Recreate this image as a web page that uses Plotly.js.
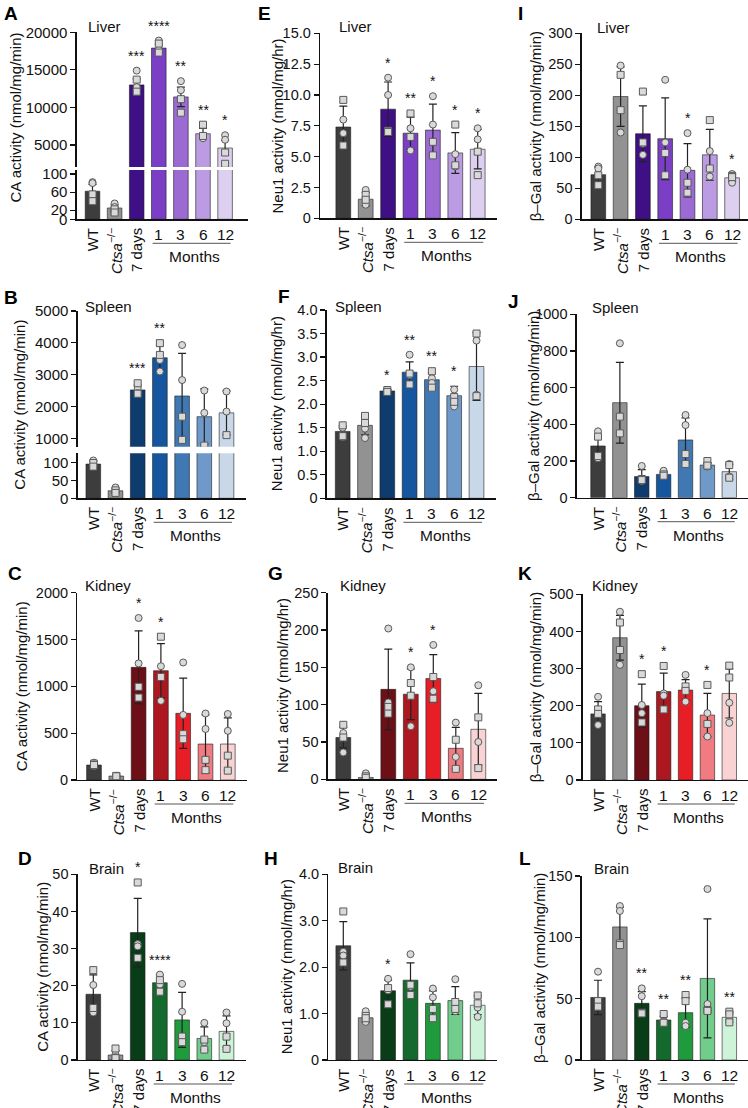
<!DOCTYPE html>
<html><head><meta charset="utf-8">
<script src="https://cdn.plot.ly/plotly-3.0.1.min.js"></script>
<style>html,body{margin:0;padding:0;background:#fff}</style>
</head><body><div id="chart" style="width:748px;height:1108px"></div>
<script>
const categories = ["WT","Ctsa−/−","7 days","1","3","6","12"];
const tickLabels = ["WT","<i>Ctsa</i><sup>−/−</sup>","7 days","1","3","6","12"];
const groupLabel = "Months";

// Panel A – Liver CA
const A_mean = [62, 25, 13000, 17900, 11400, 6500, 4600];
const A_sd   = [15, 7, 800, 500, 1300, 700, 1000];
const A_circ = [[82, 80], [35, 27], [14900, 12700], [18900, 17700], [13500, 12300], [5900], [6300, 5700]];
const A_sq   = [[55, 40], [22, 15], [13700, 12100], [18500, 17300], [11100, 9300], [7700, 6200], [4000, 2500]];
const A_star = ["", "", "***", "****", "**", "**", "*"];
// Panel B – Spleen CA
const B_mean = [95, 21, 2520, 3530, 2330, 1680, 1800];
const B_sd   = [8, 6, 150, 380, 1340, 870, 690];
const B_circ = [[105, 92], [30, 18], [2580, 2420], [3460, 3100], [3930, 2830], [2500, 1800], [2470, 1840]];
const B_sq   = [[98, 88], [22, 15], [2730, 2400], [3990, 3620], [1680, 950], [770], [1100]];
const B_star = ["", "", "***", "**", "", "", ""];
// Panel C – Kidney CA
const C_mean = [160, 42, 1203, 1167, 712, 384, 384];
const C_sd   = [22, 5, 390, 290, 375, 310, 280];
const C_circ = [[185, 150], [45, 38], [1730, 1245], [1215, 845], [1255, 695], [710, 545], [705, 525]];
const C_sq   = [[175, 160], [44, 40], [995, 880], [1530, 1100], [490, 435], [215, 105], [260, 100]];
const C_star = ["", "", "*", "*", "", "", ""];
// Panel D – Brain CA
const D_mean = [17.7, 1.35, 34.3, 20.8, 10.8, 5.8, 7.7];
const D_sd   = [5.2, 1.2, 9.2, 2.1, 7.4, 3.1, 4.2];
const D_circ = [[20.2, 12.8], [1.5, 0.8], [31.2, 30.6], [23.0, 20.3], [20.5, 13.0], [10.0, 4.8], [12.8, 9.9]];
const D_sq   = [[24.2, 14.0], [3.1, 0.5], [47.8, 27.5], [21.5, 18.4], [6.3, 4.8], [5.5, 2.8], [6.3, 3.0]];
const D_star = ["", "", "*", "****", "", "", ""];
// Panel E – Liver Neu1
const E_mean = [7.4, 1.55, 8.85, 6.9, 7.15, 5.3, 5.6];
const E_sd   = [1.7, 0.55, 2.2, 1.3, 2.1, 1.65, 1.6];
const E_circ = [[8.0, 6.9], [2.3, 1.1], [11.4, 10.0], [7.3, 5.5], [9.9, 7.6], [5.2, 4.2], [7.3, 6.4]];
const E_sq   = [[9.6, 5.9], [1.9, 1.5], [7.1, 7.0], [8.5, 6.6], [6.2, 5.1], [7.6, 4.3], [5.4, 3.5]];
const E_star = ["", "", "*", "**", "*", "*", "*"];
// Panel F – Spleen Neu1
const F_mean = [1.42, 1.55, 2.28, 2.68, 2.52, 2.18, 2.8];
const F_sd   = [0.12, 0.2, 0.03, 0.22, 0.14, 0.2, 0.72];
const F_circ = [[1.5, 1.3], [1.48, 1.28], [2.3, 2.28], [3.05, 2.62], [2.55, 2.45], [2.31, 1.95], [3.35, 2.2]];
const F_sq   = [[1.55, 1.32], [1.75, 1.6], [2.3, 2.26], [2.65, 2.42], [2.7, 2.35], [2.15, 2.05], [3.5, 2.17]];
const F_star = ["", "", "*", "**", "**", "*", ""];
// Panel G – Kidney Neu1
const G_mean = [56, 2.5, 120.5, 114, 135, 41.5, 67];
const G_sd   = [14, 3, 54, 34, 32, 28, 48];
const G_circ = [[62, 36], [8, 1.5], [202, 103], [150, 71], [180, 118], [76, 30], [126, 50]];
const G_sq   = [[73, 56], [4, 2], [97, 88], [129, 112], [137, 108], [53, 14], [83, 15]];
const G_star = ["", "", "", "*", "*", "", ""];
// Panel H – Brain Neu1
const H_mean = [2.46, 0.91, 1.49, 1.72, 1.22, 1.28, 1.18];
const H_sd   = [0.52, 0.1, 0.23, 0.37, 0.27, 0.3, 0.2];
const H_circ = [[2.33, 2.25], [1.05, 0.82], [1.75, 1.5], [2.28, 1.58], [1.54, 1.35], [1.74, 1.05], [1.13, 0.93]];
const H_sq   = [[3.2, 2.1], [0.95, 0.9], [1.55, 1.2], [1.62, 1.4], [1.1, 0.9], [1.25, 1.1], [1.39, 1.22]];
const H_star = ["", "", "*", "", "", "", ""];
// Panel I – Liver β-Gal
const I_mean = [72, 198, 138, 130, 79, 104, 67];
const I_sd   = [12, 48, 45, 66, 43, 41, 6];
const I_circ = [[85, 82], [248, 140], [122, 104], [225, 124], [139, 80], [110, 69], [73, 59]];
const I_sq   = [[71, 55], [233, 176], [206, 124], [107, 71], [59, 43], [160, 82], [70, 68]];
const I_star = ["", "", "", "", "*", "", "*"];
// Panel J – Spleen β-Gal
const J_mean = [282, 518, 115, 127, 315, 178, 142];
const J_sd   = [58, 220, 38, 12, 120, 13, 40];
const J_circ = [[362, 215], [842, 442], [173, 91], [147, 124], [451, 396], [187, 169], [184, 115]];
const J_sq   = [[333, 227], [442, 351], [102, 96], [127, 120], [238, 184], [200, 175], [178, 109]];
const J_star = ["", "", "", "", "", "", ""];
// Panel K – Kidney β-Gal
const K_mean = [178, 383, 200, 238, 242, 175, 233];
const K_sd   = [33, 60, 58, 50, 28, 58, 66];
const K_circ = [[224, 148], [453, 310], [202, 180], [233, 227], [283, 211], [180, 117], [208, 154]];
const K_sq   = [[190, 178], [424, 350], [285, 155], [307, 190], [252, 240], [256, 151], [308, 276]];
const K_star = ["", "", "*", "*", "", "*", ""];
// Panel L – Brain β-Gal
const L_mean = [51, 108.5, 46.2, 32.6, 38.6, 66.5, 34.8];
const L_sd   = [14, 16, 9.5, 3, 12, 48.5, 4];
const L_circ = [[72, 45], [125.5, 121.5], [58.4, 52], [31.8, 31], [30.4, 27.7], [139.4, 45.6], [33]];
const L_sq   = [[48, 43.5], [95, 93.7], [38.6, 38], [37.5, 30.4], [53, 48], [40.8, 40], [39.4, 37.2, 30.7]];
const L_star = ["", "", "**", "**", "**", "", "**"];

const greys  = ["#3d3d3d", "#929292"];
const purple = ["#3f0f85", "#7b3fc6", "#9b6bd3", "#bb9ce2", "#dccff0"];
const blue   = ["#0e3c6f", "#15569f", "#3f78b3", "#6e99c9", "#c9d8e8"];
const red    = ["#6d0f16", "#ad1820", "#e81e26", "#f07b80", "#f9d2d3"];
const green  = ["#093d18", "#14692c", "#1f9a3d", "#70cd8b", "#cdf3d8"];

const W = 748, H = 1108;
const px = x => x / W, py = y => 1 - y / H;
const FONT = "Liberation Sans, Arial, Helvetica, sans-serif";
const CA = "CA activity (nmol/mg/min)", NEU = "Neu1 activity (nmol/mg/hr)", GAL = "β–Gal activity (nmol/mg/min)";
function rng(a, b, s) { const o = []; for (let v = a; v <= b + 1e-9; v += s) o.push(+v.toFixed(3)); return o; }

const panels = [
 {L:'A', organ:'Liver', yt:CA, mean:A_mean, sd:A_sd, circ:A_circ, sq:A_sq, star:A_star, pal:purple, tf:15,
  g:{xL:76.7, xR:248, yT:32.3, yB:219.3, c0:92.5, s:22.1, lx:2, ly:5, ox:86, oy:26, tx:15.5, ty:118},
  brk:{upBot:167, loTop:170, up:[2072, 20000], upT:[5000, 10000, 15000, 20000], upTT:["5000","10000","15000","20000"], lo:[0, 108.8], loT:[0, 20, 60, 100]}},
 {L:'E', organ:'Liver', yt:NEU, mean:E_mean, sd:E_sd, circ:E_circ, sq:E_sq, star:E_star, pal:purple,
  g:{xL:320, yT:33.3, yB:218.3, c0:343.3, s:22.4, lx:256, ly:5, ox:337, oy:26, tx:277.7},
  yr:[0, 15], ytv:rng(0, 15, 2.5), ytt:["0","2.5","5.0","7.5","10.0","12.5","15.0"]},
 {L:'I', organ:'Liver', yt:GAL, mean:I_mean, sd:I_sd, circ:I_circ, sq:I_sq, star:I_star, pal:purple,
  g:{xL:581.7, xR:748, yT:33.3, yB:219.3, c0:598.3, s:22.3, lx:516, ly:5, ox:595, oy:27, tx:535},
  yr:[0, 300], ytv:rng(0, 300, 50)},
 {L:'B', organ:'Spleen', yt:CA, mean:B_mean, sd:B_sd, circ:B_circ, sq:B_sq, star:B_star, pal:blue, tf:15,
  g:{xL:77.7, yT:311, yB:498.3, c0:93.3, s:22.2, lx:2, ly:289, ox:83, oy:307, tx:20},
  brk:{upBot:446.7, loTop:453.3, up:[736, 5000], upT:[1000, 2000, 3000, 4000, 5000], upTT:["1000","2000","3000","4000","5000"], lo:[0, 125], loT:[0, 50, 100]}},
 {L:'F', organ:'Spleen', yt:NEU, mean:F_mean, sd:F_sd, circ:F_circ, sq:F_sq, star:F_star, pal:blue,
  g:{xL:326.7, yT:310, yB:498.3, c0:342.7, s:22.3, lx:276, ly:288, ox:333, oy:307, tx:276},
  yr:[0, 4], ytv:rng(0, 4, 0.5), ytt:["0","0.5","1.0","1.5","2.0","2.5","3.0","3.5","4.0"]},
 {L:'J', organ:'Spleen', yt:GAL, mean:J_mean, sd:J_sd, circ:J_circ, sq:J_sq, star:J_star, pal:blue,
  g:{xL:576.7, yT:314.3, yB:497.7, c0:598.3, s:22.2, lx:506, ly:293, ox:590, oy:308, tx:533},
  yr:[0, 1000], ytv:rng(0, 1000, 200)},
 {L:'C', organ:'Kidney', yt:CA, mean:C_mean, sd:C_sd, circ:C_circ, sq:C_sq, star:C_star, pal:red,
  g:{xL:77.3, yT:592.7, yB:780, c0:94, s:22.3, lx:6, ly:565, ox:83, oy:585, tx:21},
  yr:[0, 2000], ytv:rng(0, 2000, 500)},
 {L:'G', organ:'Kidney', yt:NEU, mean:G_mean, sd:G_sd, circ:G_circ, sq:G_sq, star:G_star, pal:red,
  g:{xL:327.7, yT:592.7, yB:779.3, c0:343.3, s:22.5, lx:266, ly:565, ox:338, oy:585, tx:282},
  yr:[0, 250], ytv:rng(0, 250, 50)},
 {L:'K', organ:'Kidney', yt:GAL, mean:K_mean, sd:K_sd, circ:K_circ, sq:K_sq, star:K_star, pal:red,
  g:{xL:582.7, yT:594.3, yB:780, c0:598.3, s:22.2, lx:516, ly:565, ox:590, oy:585, tx:535},
  yr:[0, 500], ytv:rng(0, 500, 100)},
 {L:'D', organ:'Brain', yt:CA, mean:D_mean, sd:D_sd, circ:D_circ, sq:D_sq, star:D_star, pal:green,
  g:{xL:77.7, yT:874.3, yB:1060, c0:93.3, s:22.2, lx:16, ly:850, ox:87, oy:868, tx:41.7},
  yr:[0, 50], ytv:rng(0, 50, 10)},
 {L:'H', organ:'Brain', yt:NEU, mean:H_mean, sd:H_sd, circ:H_circ, sq:H_sq, star:H_star, pal:green,
  g:{xL:328.3, yT:874.3, yB:1060, c0:343.3, s:22.4, lx:262, ly:850, ox:336, oy:867, tx:286},
  yr:[0, 4], ytv:[0, 1, 2, 3, 4], ytt:["0","1.0","2.0","3.0","4.0"]},
 {L:'L', organ:'Brain', yt:GAL, mean:L_mean, sd:L_sd, circ:L_circ, sq:L_sq, star:L_star, pal:green,
  g:{xL:581.7, yT:876, yB:1060, c0:598.3, s:22.3, lx:517, ly:850, ox:592, oy:868, tx:539},
  yr:[0, 150], ytv:rng(0, 150, 50)}
];

const data = [];
const layout = {
  width: W, height: H, margin: {l:0, r:0, t:0, b:0}, autosize: false,
  paper_bgcolor: '#fff', plot_bgcolor: 'rgba(0,0,0,0)', showlegend: false,
  font: {family: FONT, color: '#111', size: 15}, annotations: [], shapes: [], bargap: 0
};
function yax(r, tv, tt, dom, anchor, fs) {
  const a = {range: r, domain: dom, anchor: anchor, tickmode: 'array', tickvals: tv,
    showline: true, linecolor: '#111', linewidth: 1.3, ticks: 'outside', ticklen: 5, tickwidth: 1.2,
    tickcolor: '#111', tickfont: {size: fs, family: FONT, color: '#111'}, showgrid: false, zeroline: false, fixedrange: true};
  a.ticktext = tt || tv.map(v => String(v));
  return a;
}
let extra = 13;
panels.forEach((p, idx) => {
  const n = idx + 1, g = p.g;
  const xa = 'x' + n, ya = 'y' + n;
  const fs = p.tf || 14.5;
  const xr = g.xR || (g.c0 + 6 * g.s + 19);
  layout['xaxis' + n] = {type: 'category', domain: [px(g.xL), px(xr)], range: [(g.xL - g.c0) / g.s, (xr - g.c0) / g.s],
    anchor: ya, showline: true, linecolor: '#111', linewidth: 1.3, showticklabels: false, ticks: '',
    showgrid: false, zeroline: false, fixedrange: true};
  const axes = [];
  if (p.brk) {
    const b = p.brk;
    layout['yaxis' + n] = yax(b.lo, b.loT, null, [py(g.yB), py(b.loTop)], xa, fs);
    const m = extra++;
    layout['yaxis' + m] = yax(b.up, b.upT, b.upTT, [py(b.upBot), py(g.yT)], xa, fs);
    axes.push({id: ya, r: b.lo}, {id: 'y' + m, r: b.up});
  } else {
    layout['yaxis' + n] = yax(p.yr, p.ytv, p.ytt, [py(g.yB), py(g.yT)], xa, fs);
    axes.push({id: ya, r: p.yr});
  }
  const cx = [], cy = [], sx = [], sy = [];
  p.circ.forEach((arr, i) => arr.forEach(v => { cx.push(categories[i]); cy.push(v); }));
  p.sq.forEach((arr, i) => arr.forEach(v => { sx.push(categories[i]); sy.push(v); }));
  axes.forEach(a => {
    data.push({type: 'bar', x: categories, y: p.mean, xaxis: xa, yaxis: a.id, width: 0.66,
      marker: {color: greys.concat(p.pal), line: {color: 'rgba(30,30,30,0.75)', width: 0.8}},
      error_y: {type: 'data', array: p.sd, visible: true, color: '#222', thickness: 1.2, width: 4}, hoverinfo: 'skip'});
    data.push({type: 'scatter', mode: 'markers', x: cx, y: cy, xaxis: xa, yaxis: a.id, hoverinfo: 'skip',
      marker: {symbol: 'circle', size: 7, color: '#d9d9d9', line: {color: '#5a5a5a', width: 1}}});
    data.push({type: 'scatter', mode: 'markers', x: sx, y: sy, xaxis: xa, yaxis: a.id, hoverinfo: 'skip',
      marker: {symbol: 'square', size: 7, color: '#d9d9d9', line: {color: '#5a5a5a', width: 1}}});
  });
  // significance stars
  p.star.forEach((st, i) => {
    if (!st) return;
    const top = Math.max(p.mean[i] + p.sd[i], ...p.circ[i], ...p.sq[i]);
    let yref = ya;
    if (p.brk && top > p.brk.lo[1]) yref = axes[1].id;
    layout.annotations.push({xref: xa, yref: yref, x: i, y: top, text: st, showarrow: false,
      yanchor: 'bottom', xanchor: 'center', yshift: 5, font: {size: 14, color: '#111'}});
  });
  // x labels
  tickLabels.forEach((t, i) => {
    if (i < 3) {
      layout.annotations.push({xref: xa, yref: 'paper', x: i, y: py(g.yB + 7), text: t, textangle: -90,
        showarrow: false, xanchor: 'center', yanchor: 'top', font: {size: 15}});
    } else {
      layout.annotations.push({xref: xa, yref: 'paper', x: i, y: py(g.yB + 5), text: t,
        showarrow: false, xanchor: 'center', yanchor: 'top', font: {size: 15.5}});
    }
  });
  layout.shapes.push({type: 'line', xref: xa, yref: 'paper', x0: 2.72, x1: 6.25, y0: py(g.yB + 24), y1: py(g.yB + 24),
    line: {color: '#555', width: 1}});
  layout.annotations.push({xref: xa, yref: 'paper', x: 4.6, y: py(g.yB + 27), text: groupLabel,
    showarrow: false, xanchor: 'center', yanchor: 'top', font: {size: 15.5}});
  // y title
  layout.annotations.push({xref: 'paper', yref: 'paper', x: px(g.tx), y: py(g.ty || (g.yT + g.yB) / 2), text: p.yt,
    textangle: -90, showarrow: false, xanchor: 'center', yanchor: 'middle', font: {size: 15}});
  // organ
  layout.annotations.push({xref: 'paper', yref: 'paper', x: px(g.ox), y: py(g.oy), text: p.organ,
    showarrow: false, xanchor: 'left', yanchor: 'middle', font: {size: 15}});
  // panel letter
  layout.annotations.push({xref: 'paper', yref: 'paper', x: px(g.lx), y: py(g.ly - 4), text: '<b>' + p.L + '</b>',
    showarrow: false, xanchor: 'left', yanchor: 'top', font: {size: 19, color: '#000'}});
});

Plotly.newPlot('chart', data, layout, {staticPlot: true, displayModeBar: false});
</script></body></html>
